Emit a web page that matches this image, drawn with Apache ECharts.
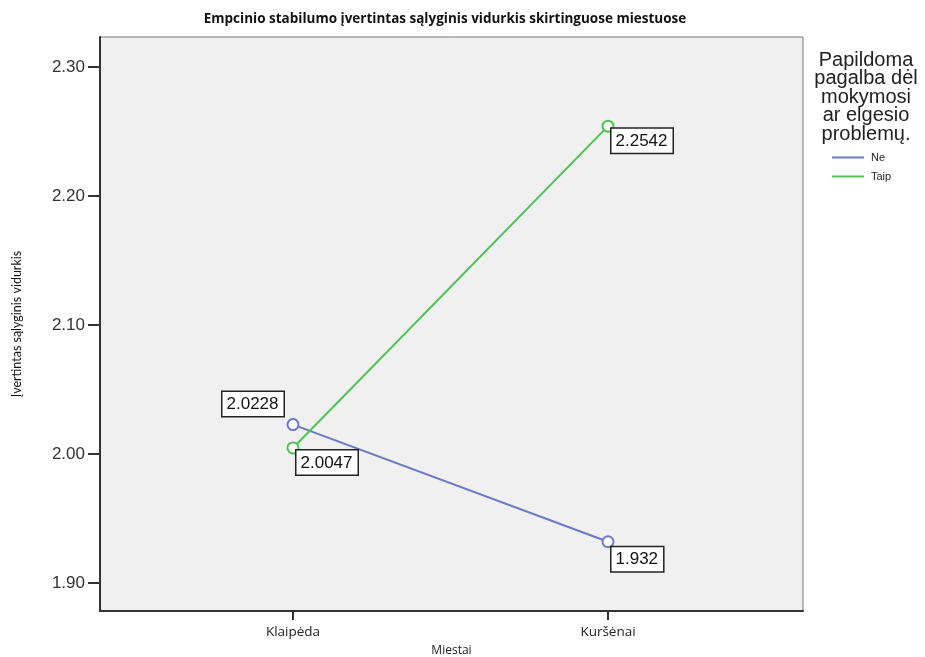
<!DOCTYPE html>
<html><head><meta charset="utf-8">
<script src="https://cdn.jsdelivr.net/npm/echarts@6/dist/echarts.min.js"></script>
<style>html,body{margin:0;padding:0;background:#fff;overflow:hidden}#c{width:925px;height:657px}</style>
</head><body><div id="c"></div>
<script>
const categories = ['Klaipėda', 'Kuršėnai'];
const seriesNames = ['Ne', 'Taip'];
const neValues = [2.0228, 1.932];
const taipValues = [2.0047, 2.2542];
const yTicks = [1.90, 2.00, 2.10, 2.20, 2.30];
const colors = ['#6b79c3', '#4cc352'];

// label placement per series / point (style, not data)
const labelPlacement = [
  [{position: [-3, -2], align: 'right', verticalAlign: 'bottom'}, {position: [10, 12], align: 'left', verticalAlign: 'top'}],
  [{position: [10, 9], align: 'left', verticalAlign: 'top'}, {position: [10, 9], align: 'left', verticalAlign: 'top'}]
];

function buildData(vals, s) {
  return vals.map((v, i) => ({
    value: [i, v],
    label: Object.assign({show: true, formatter: () => String(vals[i])}, labelPlacement[s][i])
  }));
}

const chart = echarts.init(document.getElementById('c'));
const labelStyle = {
  color: '#111', fontSize: 17, fontFamily: 'Liberation Sans, Arial, sans-serif',
  backgroundColor: '#fff', borderColor: '#222', borderWidth: 1.5, padding: [4, 5, 3, 4]
};
chart.setOption({
  animation: false,
  backgroundColor: '#fff',
  title: [{
    text: 'Empcinio stabilumo įvertintas sąlyginis vidurkis skirtinguose miestuose',
    left: 440, top: 7, textAlign: 'center',
    textStyle: {fontSize: 13.5, fontWeight: 'bold', color: '#111', fontFamily: 'Open Sans, sans-serif'}
  }, {
    text: 'Papildoma\npagalba dėl\nmokymosi\nar elgesio\nproblemų.',
    left: 861, top: 46, textAlign: 'center',
    textStyle: {fontSize: 20, fontWeight: 'normal', color: '#222', lineHeight: 18.5, fontFamily: 'Liberation Sans, Arial, sans-serif'}
  }],
  legend: {
    orient: 'vertical', left: 827, top: 147, itemWidth: 32, itemHeight: 2, itemGap: 8,
    icon: 'rect', data: seriesNames,
    textStyle: {fontSize: 11, color: '#222', fontFamily: 'Liberation Sans, Arial, sans-serif', padding: [0, 0, 0, 2]}
  },
  grid: {
    left: 100, right: 122, top: 37, bottom: 46, show: true,
    containLabel: false, outerBoundsMode: 'none',
    backgroundColor: '#f0f0f0', borderColor: '#777', borderWidth: 1
  },
  xAxis: {
    type: 'value', min: -0.6127, max: 1.619,
    name: 'Miestai', nameLocation: 'middle', nameGap: 34,
    nameTextStyle: {fontSize: 12, color: '#222', fontFamily: 'Open Sans, sans-serif'},
    axisLine: {show: true, onZero: false, lineStyle: {color: '#333', width: 2}},
    axisTick: {show: true, customValues: [0, 1], length: 9, lineStyle: {color: '#333', width: 2}},
    axisLabel: {customValues: [0, 1], formatter: (v) => categories[Math.round(v)] || '', margin: 14,
      fontSize: 13.5, color: '#222', fontFamily: 'Open Sans, sans-serif'},
    splitLine: {show: false}
  },
  yAxis: {
    type: 'value', min: 1.8783, max: 2.3233,
    name: 'Įvertintas sąlyginis vidurkis', nameLocation: 'middle', nameGap: 77,
    nameTextStyle: {fontSize: 12.5, color: '#111', fontFamily: 'Lato, sans-serif'},
    axisLine: {show: true, onZero: false, lineStyle: {color: '#333', width: 2}},
    axisTick: {show: true, customValues: yTicks, length: 12, lineStyle: {color: '#333', width: 2}},
    axisLabel: {customValues: yTicks, formatter: (v) => v.toFixed(2), margin: 15,
      fontSize: 17, color: '#333', fontFamily: 'Liberation Sans, Arial, sans-serif'},
    splitLine: {show: false}
  },
  series: [neValues, taipValues].map((vals, s) => ({
    name: seriesNames[s], type: 'line',
    data: buildData(vals, s),
    color: colors[s],
    lineStyle: {width: 2, color: colors[s]},
    symbol: 'emptyCircle', symbolSize: 11,
    itemStyle: {color: colors[s], borderWidth: 1.5},
    label: labelStyle
  }))
});
</script></body></html>
